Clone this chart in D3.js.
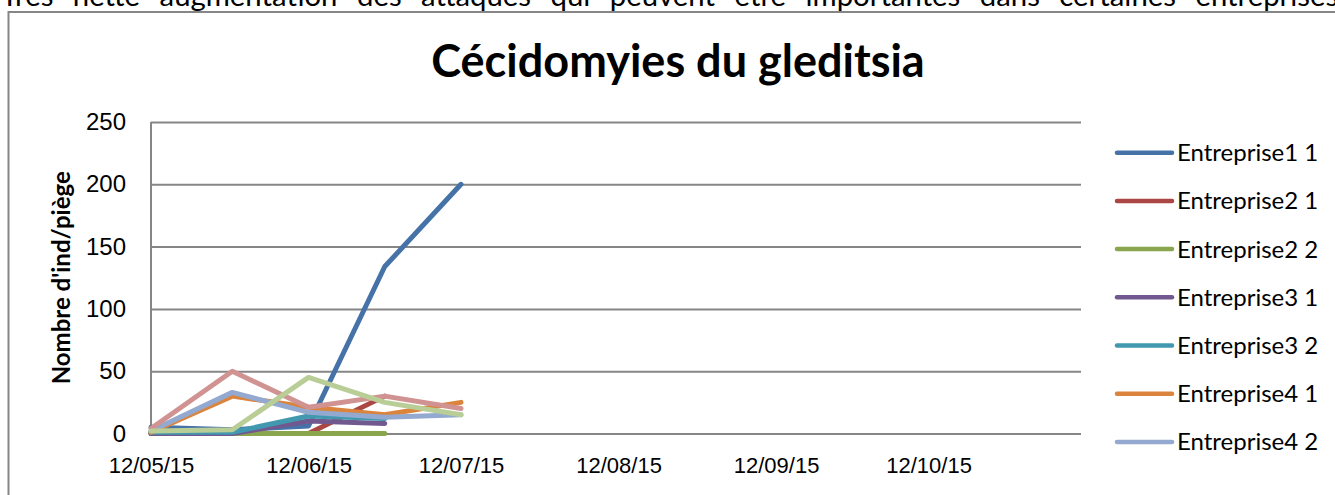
<!DOCTYPE html>
<html>
<head>
<meta charset="utf-8">
<script src="https://cdn.jsdelivr.net/npm/d3@7"></script>
<style>
  body { margin: 0; background: #fff; }
  svg { display: block; font-family: Lato, "Open Sans", sans-serif; }
</style>
</head>
<body>
<div id="chart"></div>
<script>
/* DATA */
const introText = "Très nette augmentation des attaques qui peuvent être importantes dans certaines entreprises";
const chartTitle = "Cécidomyies du gleditsia";
const yTitle = "Nombre d'ind/piège";

const dates = ["2015-05-12", "2015-05-28", "2015-06-12", "2015-06-27", "2015-07-12"];
const xTicks = ["2015-05-12", "2015-06-12", "2015-07-12", "2015-08-12", "2015-09-12", "2015-10-12"];
const xDomain = ["2015-05-12", "2015-11-11"];
const yTicks = [0, 50, 100, 150, 200, 250];

const seriesNames = ["Entreprise1 1", "Entreprise2 1", "Entreprise2 2", "Entreprise3 1",
  "Entreprise3 2", "Entreprise4 1", "Entreprise4 2", "Entreprise5 1", "Entreprise5 2"];

const entreprise1_1 = [5, 3, 6, 134, 200];
const entreprise2_1 = [0, 0, 0, 30, null];
const entreprise2_2 = [0, 0, 0, 0, null];
const entreprise3_1 = [0, 0, 10, 8, null];
const entreprise3_2 = [1, 1, 14, 12, null];
const entreprise4_1 = [1, 30, 21, 15, 25];
const entreprise4_2 = [2, 33, 17, 13, 15];
const entreprise5_1 = [4, 50, 21, 30, 20];
const entreprise5_2 = [2, 3, 45, 25, 15];

const seriesValues = [entreprise1_1, entreprise2_1, entreprise2_2, entreprise3_1,
  entreprise3_2, entreprise4_1, entreprise4_2, entreprise5_1, entreprise5_2];

const colors = ["#4572A7", "#AA4643", "#89A54E", "#71588F", "#4198AF",
  "#DB843D", "#93A9CF", "#D19392", "#B9CD96"];

/* CONSTANTS */
const width = 1335,
  height = 495,
  margin = { top: 122, bottom: 61.5, left: 151, right: 254 },
  gridColor = "#868686";

const parse = d3.timeParse("%Y-%m-%d");

const series = seriesNames.map((name, i) => ({
  name: name,
  color: colors[i],
  points: dates.map((d, j) => ({ date: parse(d), value: seriesValues[i][j] }))
}));

const svg = d3.select("#chart")
  .append("svg")
  .attr("width", width)
  .attr("height", height);

// text of the page above the chart, cut off at the top
const intro = svg.append("text")
  .attr("x", 1)
  .attr("y", 6)
  .attr("font-size", 28)
  .attr("fill", "#000")
  .text(introText);
// fit the line so that the last word ends at the page edge, with modest word gaps
const wordGap = 12;
const natural = intro.node().getComputedTextLength();
intro.attr("font-size", 28 * (1338 - 11 * wordGap) / natural)
  .style("word-spacing", wordGap + "px");

// chart frame
svg.append("rect")
  .attr("x", 8.5)
  .attr("y", 12)
  .attr("width", 1400)
  .attr("height", 600)
  .attr("fill", "none")
  .attr("stroke", gridColor)
  .attr("stroke-width", 2);

/* SCALES */
const xScale = d3.scaleTime()
  .domain(xDomain.map(parse))
  .range([margin.left, width - margin.right]);

const yScale = d3.scaleLinear()
  .domain([0, 250])
  .range([height - margin.bottom, margin.top]);

/* AXES */
const yAxis = d3.axisLeft(yScale)
  .tickValues(yTicks)
  .tickSize(-(width - margin.right - margin.left))
  .tickPadding(25);

svg.append("g")
  .attr("transform", `translate(${margin.left}, 0)`)
  .call(yAxis)
  .call(g => g.select(".domain").remove())
  .call(g => g.selectAll("line").attr("stroke", gridColor).attr("stroke-width", 2))
  .call(g => g.selectAll("text")
    .attr("font-size", 24)
    .attr("fill", "#000"));

// vertical axis line
svg.append("line")
  .attr("x1", margin.left).attr("x2", margin.left)
  .attr("y1", margin.top).attr("y2", height - margin.bottom)
  .attr("stroke", gridColor)
  .attr("stroke-width", 2);

const xAxis = d3.axisBottom(xScale)
  .tickValues(xTicks.map(parse))
  .tickFormat(d3.timeFormat("%d/%m/%y"))
  .tickSize(0)
  .tickPadding(24);

svg.append("g")
  .attr("transform", `translate(0, ${height - margin.bottom})`)
  .call(xAxis)
  .call(g => g.select(".domain").remove())
  .call(g => g.selectAll("text")
    .attr("font-size", 22)
    .attr("fill", "#000"));

/* TITLES */
svg.append("text")
  .attr("x", 678)
  .attr("y", 77)
  .attr("text-anchor", "middle")
  .attr("font-size", 45)
  .attr("font-weight", "bold")
  .text(chartTitle);

svg.append("text")
  .attr("transform", `translate(70, ${(margin.top + height - margin.bottom) / 2}) rotate(-90)`)
  .attr("text-anchor", "middle")
  .attr("font-size", 24)
  .attr("font-weight", "bold")
  .text(yTitle);

/* LINES */
const line = d3.line()
  .defined(d => d.value !== null)
  .x(d => xScale(d.date))
  .y(d => yScale(d.value));

svg.append("g")
  .selectAll("path")
  .data(series)
  .join("path")
  .attr("d", d => line(d.points))
  .attr("fill", "none")
  .attr("stroke", d => d.color)
  .attr("stroke-width", 5)
  .attr("stroke-linejoin", "round")
  .attr("stroke-linecap", "round");

/* LEGEND */
const legendTop = 152.7, legendStep = 48.2;
const legendItems = series.filter((d, i) => legendTop + i * legendStep + 16 < height);

const legend = svg.append("g")
  .selectAll("g")
  .data(legendItems)
  .join("g")
  .attr("transform", (d, i) => `translate(1117, ${legendTop + i * legendStep})`);

legend.append("line")
  .attr("x1", 0).attr("x2", 55)
  .attr("stroke", d => d.color)
  .attr("stroke-width", 4.5)
  .attr("stroke-linecap", "round");

legend.append("text")
  .attr("x", 60)
  .attr("dy", "0.35em")
  .attr("font-size", 24)
  .attr("fill", "#000")
  .text(d => d.name);
</script>
</body>
</html>
